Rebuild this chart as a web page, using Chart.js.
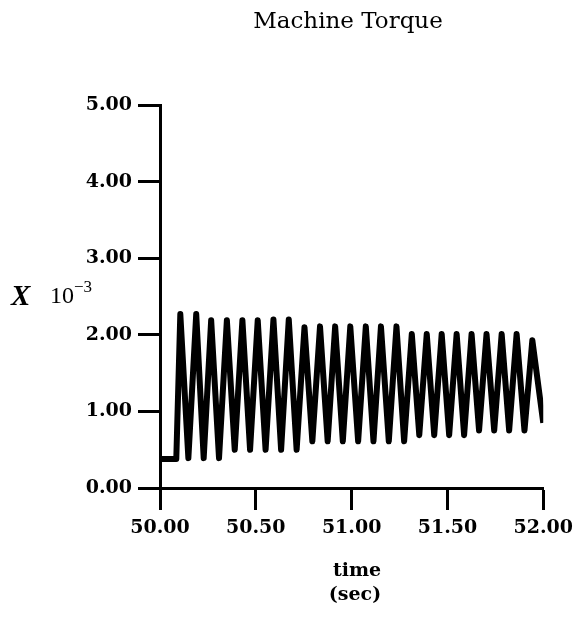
<!DOCTYPE html>
<html>
<head>
<meta charset="utf-8">
<title>Machine Torque</title>
<script src="https://cdn.jsdelivr.net/npm/chart.js@4.4.1/dist/chart.umd.min.js"></script>
<style>
  html, body { margin: 0; padding: 0; background: #fff; }
  #torqueChart { display: block; }
</style>
</head>
<body>
<canvas id="torqueChart" width="580" height="620"></canvas>
<script>
// torque trace, values in units of 10^-3
const timeValues = [
    50.000, 50.085,
    50.106, 50.148, 50.189, 50.228, 50.267, 50.308, 50.349, 50.390,
    50.430, 50.470, 50.510, 50.551, 50.592, 50.632, 50.672, 50.713,
    50.754, 50.795, 50.835, 50.875, 50.914, 50.954, 50.993, 51.034,
    51.074, 51.114, 51.153, 51.194, 51.234, 51.274, 51.314, 51.353,
    51.392, 51.431, 51.470, 51.509, 51.548, 51.587, 51.626, 51.665,
    51.704, 51.744, 51.783, 51.822, 51.861, 51.902, 51.943, 52.000
];
const torqueValues = [
    0.38, 0.38,
    2.27, 0.39, 2.27, 0.39, 2.19, 0.39, 2.19, 0.50,
    2.19, 0.50, 2.19, 0.50, 2.20, 0.50, 2.20, 0.50,
    2.10, 0.61, 2.11, 0.61, 2.11, 0.61, 2.11, 0.61,
    2.11, 0.61, 2.11, 0.61, 2.11, 0.61, 2.01, 0.69,
    2.01, 0.69, 2.01, 0.69, 2.01, 0.69, 2.01, 0.75,
    2.01, 0.75, 2.01, 0.75, 2.01, 0.75, 1.93, 0.85
];

const xTickValues = [50.0, 50.5, 51.0, 51.5, 52.0];
const yTickValues = [0, 1, 2, 3, 4, 5];

const titleText = 'Machine Torque';
const xTitleLines = ['time', '(sec)'];

const serif = "'DejaVu Serif', 'Liberation Serif', serif";
const tickFont = { family: serif, size: 19, weight: 'bold' };

// titles and the "X 10^-3" scale note are painted straight onto the canvas
const labelsPlugin = {
    id: 'labels',
    afterDraw(chart) {
        const c = chart.ctx;
        c.save();
        c.fillStyle = '#000';
        c.textBaseline = 'alphabetic';

        c.textAlign = 'center';
        c.font = "23px " + serif;
        c.fillText(titleText, 348, 28);

        c.font = "bold 19px " + serif;
        c.fillText(xTitleLines[0], 357, 576);
        c.fillText(xTitleLines[1], 355, 600);

        c.textAlign = 'left';
        c.font = "italic bold 29px 'Liberation Serif', serif";
        c.fillText('X', 11, 305);
        c.font = "24px 'Liberation Serif', serif";
        c.fillText('10', 50, 303);
        c.font = "17px 'Liberation Serif', serif";
        c.fillText('\u22123', 74, 292);
        c.restore();
    }
};

function initChart() {
    const canvas = document.getElementById('torqueChart');
    if (!canvas) return;
    const ctx = canvas.getContext('2d');

    const points = timeValues.map((t, i) => ({ x: t, y: torqueValues[i] }));

    new Chart(ctx, {
        type: 'line',
        data: {
            datasets: [{
                data: points,
                borderColor: '#000',
                borderWidth: 6,
                borderJoinStyle: 'round',
                borderCapStyle: 'butt',
                tension: 0,
                pointRadius: 0,
                fill: false
            }]
        },
        options: {
            responsive: false,
            animation: false,
            layout: { padding: { left: 0, top: 105, right: 34, bottom: 0 } },
            plugins: {
                legend: { display: false },
                tooltip: { enabled: false }
            },
            scales: {
                x: {
                    type: 'linear',
                    min: 50,
                    max: 52,
                    afterBuildTicks: scale => { scale.ticks = xTickValues.map(v => ({ value: v })); },
                    afterFit: scale => { scale.height = 132; },
                    ticks: {
                        color: '#000',
                        font: tickFont,
                        padding: 7,
                        maxRotation: 0,
                        autoSkip: false,
                        callback: v => Number(v).toFixed(2)
                    },
                    grid: {
                        drawOnChartArea: false,
                        drawTicks: true,
                        tickLength: 22,
                        tickWidth: 3,
                        tickColor: '#000'
                    },
                    border: { display: true, color: '#000', width: 3 }
                },
                y: {
                    min: 0,
                    max: 5,
                    afterBuildTicks: scale => { scale.ticks = yTickValues.map(v => ({ value: v })); },
                    afterFit: scale => { scale.width = 160; },
                    ticks: {
                        color: '#000',
                        font: tickFont,
                        padding: 6,
                        autoSkip: false,
                        callback: v => Number(v).toFixed(2)
                    },
                    grid: {
                        drawOnChartArea: false,
                        drawTicks: true,
                        tickLength: 22,
                        tickWidth: 3,
                        tickColor: '#000'
                    },
                    border: { display: true, color: '#000', width: 3 }
                }
            }
        },
        plugins: [labelsPlugin]
    });
}

document.addEventListener('DOMContentLoaded', initChart);
</script>
</body>
</html>
